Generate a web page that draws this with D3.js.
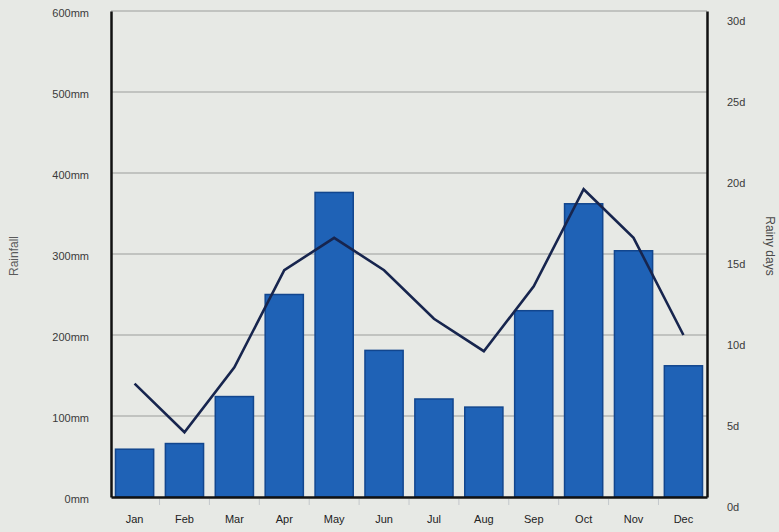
<!DOCTYPE html>
<html>
<head>
<meta charset="utf-8">
<script src="https://cdn.jsdelivr.net/npm/d3@7"></script>
<style>
  html, body { margin: 0; padding: 0; background: #e7e9e5; }
  svg { display: block; }
  text { font-family: "Liberation Sans", Arial, sans-serif; }
</style>
</head>
<body>
<svg id="chart" width="779" height="532"></svg>
<script>
// Monthly climate data
const months = ["Jan", "Feb", "Mar", "Apr", "May", "Jun", "Jul", "Aug", "Sep", "Oct", "Nov", "Dec"];
const rainfallMm = [59, 66, 124, 250, 376, 181, 121, 111, 230, 362, 304, 162];
const rainyDays = [7, 4, 8, 14, 16, 14, 11, 9, 13, 19, 16, 10];
const rainfallTicks = [0, 100, 200, 300, 400, 500, 600];
const dayTicks = [0, 5, 10, 15, 20, 25, 30];

const svg = d3.select("#chart");
const W = 779, H = 532;
const margin = { top: 11, right: 72, bottom: 35, left: 111 };
const x0 = margin.left, x1 = W - margin.right;
const y0 = H - margin.bottom, y1 = margin.top;

const x = d3.scaleBand()
  .domain(months)
  .range([x0, x1])
  .paddingInner(0.235)
  .paddingOuter(0.09);

const yRain = d3.scaleLinear().domain([0, 600]).range([y0, y1]);
const yDays = d3.scaleLinear().domain([0, 30]).range([y0, y1]);

// Horizontal gridlines
svg.append("g")
  .selectAll("line")
  .data(rainfallTicks.filter(d => d > 0))
  .join("line")
  .attr("x1", x0)
  .attr("x2", x1)
  .attr("y1", d => yRain(d))
  .attr("y2", d => yRain(d))
  .attr("stroke", "#9c9e9c")
  .attr("stroke-width", 1.2);

// Rainfall bars
svg.append("g")
  .selectAll("rect")
  .data(months)
  .join("rect")
  .attr("x", d => x(d))
  .attr("width", x.bandwidth())
  .attr("y", (d, i) => yRain(rainfallMm[i]))
  .attr("height", (d, i) => y0 - yRain(rainfallMm[i]))
  .attr("fill", "#1f62b6")
  .attr("stroke", "#12468e")
  .attr("stroke-width", 1.5);

// Rainy days line
const line = d3.line()
  .x((d, i) => x(months[i]) + x.bandwidth() / 2)
  .y(d => yDays(d));

svg.append("path")
  .datum(rainyDays)
  .attr("d", line)
  .attr("fill", "none")
  .attr("stroke", "#17254e")
  .attr("stroke-width", 2.6)
  .attr("stroke-linejoin", "miter");

// Left axis (rainfall)
const leftAxis = svg.append("g")
  .attr("transform", `translate(${x0},0)`)
  .call(d3.axisLeft(yRain).tickValues(rainfallTicks).tickSize(0).tickPadding(22)
    .tickFormat(d => d + "mm"));
leftAxis.select(".domain").attr("stroke", "#111").attr("stroke-width", 2.5);
leftAxis.selectAll("text").attr("font-size", 11).attr("fill", "#3a3a3a").attr("dy", "0.5em");

// Right axis (rainy days)
const rightAxis = svg.append("g")
  .attr("transform", `translate(${x1},0)`)
  .call(d3.axisRight(yDays).tickValues(dayTicks).tickSize(0).tickPadding(20)
    .tickFormat(d => d + "d"));
rightAxis.select(".domain").attr("stroke", "#111").attr("stroke-width", 2.5);
rightAxis.selectAll("text").attr("font-size", 11).attr("fill", "#3a3a3a").attr("dy", "1.2em");

// Bottom axis (months)
const bottomAxis = svg.append("g")
  .attr("transform", `translate(0,${y0})`)
  .call(d3.axisBottom(x).tickSize(0).tickPadding(18));
bottomAxis.select(".domain").attr("stroke", "#111").attr("stroke-width", 2.5);
bottomAxis.selectAll("text").attr("font-size", 11).attr("fill", "#222");

// Faint separators below the baseline between months
svg.append("g")
  .selectAll("line")
  .data(months.slice(1))
  .join("line")
  .attr("x1", d => x(d) - x.step() * x.paddingInner() / 2)
  .attr("x2", d => x(d) - x.step() * x.paddingInner() / 2)
  .attr("y1", y0 + 2)
  .attr("y2", y0 + 8)
  .attr("stroke", "#c4c8cc")
  .attr("stroke-width", 1);

// Axis titles
svg.append("text")
  .attr("transform", `translate(18,${(y0 + y1) / 2 + 2}) rotate(-90)`)
  .attr("text-anchor", "middle")
  .attr("font-size", 12)
  .attr("fill", "#5a5a5a")
  .text("Rainfall");

svg.append("text")
  .attr("transform", `translate(766,${(y0 + y1) / 2 - 8}) rotate(90)`)
  .attr("text-anchor", "middle")
  .attr("font-size", 12)
  .attr("fill", "#4a4a4a")
  .text("Rainy days");
</script>
</body>
</html>
